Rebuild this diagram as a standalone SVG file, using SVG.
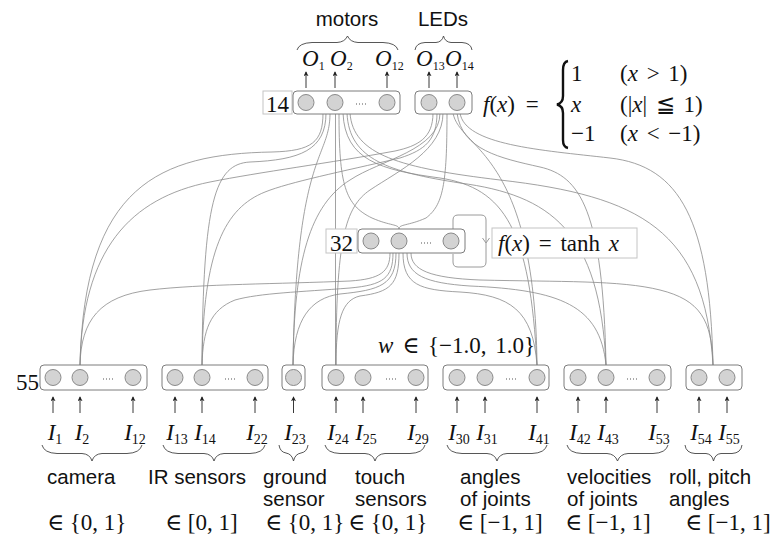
<svg xmlns="http://www.w3.org/2000/svg" width="771" height="543" viewBox="0 0 771 543">
<style>
  .ln{fill:none;stroke:#8a8a8a;stroke-width:0.8}
  .box{fill:#fff;stroke:#7d7d7d;stroke-width:1}
  .tag{fill:#fff;stroke:#c4c4c4;stroke-width:1}
  .u{fill:#d3d3d3;stroke:#8a8a8a;stroke-width:1}
  .dots{stroke:#555;stroke-width:1.1;stroke-dasharray:1 2}
  .ar{stroke:#222;stroke-width:0.9;marker-end:url(#tip)}
  .br{fill:none;stroke:#444;stroke-width:0.9}
  .m{font-family:"Liberation Serif","DejaVu Serif",serif;font-size:23px;fill:#111}
  .s{font-family:"Liberation Sans",Arial,sans-serif;font-size:20.5px;fill:#111}
  .i{font-style:italic}
  .sub{font-size:14px;font-style:normal}
  .osub{font-size:12px;font-style:normal}
</style>
<defs>
  <marker id="tip" viewBox="0 0 6 6" refX="5" refY="3" markerWidth="5" markerHeight="5" markerUnits="userSpaceOnUse" orient="auto">
    <path d="M0,0 L6,3 L0,6 L1.5,3 z" fill="#222"/>
  </marker>
</defs>

<!-- weighted connections -->
<g id="connectors">
  <!-- output motors -> inputs / hidden -->
  <path class="ln" d="M323,113 C323,142 312,151 272,152 C160,154 84,185 80,365"/>
  <path class="ln" d="M326,113 C326,150 300,160 250,162 C215,164 203,200 202,365"/>
  <path class="ln" d="M330,113 C330,160 296,150 293,365"/>
  <path class="ln" d="M335.5,113 L335.5,365"/>
  <path class="ln" d="M339,113 C339,185 345,205 372,218 C390,226 399,224 399,229"/>
  <path class="ln" d="M343,113 C345,160 380,170 440,178 C505,188 530,230 537,365"/>
  <path class="ln" d="M347,113 C349,160 390,172 460,183 C550,195 600,230 606,365"/>
  <path class="ln" d="M350,113 C353,155 400,168 500,180 C640,196 705,230 713,365"/>
  <!-- output LEDs -> inputs / hidden -->
  <path class="ln" d="M433,113 C433,138 418,146 395,151 C330,163 260,172 210,182 C130,198 82,250 80,365"/>
  <path class="ln" d="M437,113 C437,140 425,150 400,158 C340,172 290,182 265,192 C225,208 203,250 202,365"/>
  <path class="ln" d="M440,113 C440,150 380,160 350,180 C310,205 294,260 293,365"/>
  <path class="ln" d="M443,113 C443,150 400,170 370,190 C345,207 336,240 336,365"/>
  <path class="ln" d="M447,113 C447,185 443,205 426,218 C408,226 399,224 399,229"/>
  <path class="ln" d="M453,113 C460,150 535,150 537,365"/>
  <path class="ln" d="M457,113 C462,150 500,158 540,167 C580,176 603,210 606,365"/>
  <path class="ln" d="M460,113 C465,145 540,150 610,158 C680,166 710,220 713,365"/>
  <!-- hidden -> inputs -->
  <path class="ln" d="M390,253 C390,272 380,279 350,281 C280,284 200,284 150,290 C100,296 81,320 80,365"/>
  <path class="ln" d="M393,253 C393,278 383,285 350,288 C300,292 260,293 235,300 C210,310 203,330 202,365"/>
  <path class="ln" d="M396,253 C396,285 380,290 340,294 C310,298 294,320 293,365"/>
  <path class="ln" d="M399,253 C399,285 390,292 360,296 C342,300 336,320 336,365"/>
  <path class="ln" d="M403,253 C403,285 420,290 460,292 C510,295 533,310 537,365"/>
  <path class="ln" d="M407,253 C407,275 425,283 470,286 C560,290 600,305 606,365"/>
  <path class="ln" d="M411,253 C411,270 430,278 480,280 C560,282 620,280 660,290 C700,300 712,320 713,365"/>
</g>

<!-- output layer -->
<text class="s" x="347" y="26" text-anchor="middle" font-size="21">motors</text>
<text class="s" x="443" y="26" text-anchor="middle" font-size="21">LEDs</text>
<path class="br" d="M297,50 Q299,43 312,42.5 L337,42.5 Q345,42 347.5,36 Q350,42 358,42.5 L383,42.5 Q396,43 398,50"/>
<path class="br" d="M415,50 Q416,43 425,42.5 L436,42.5 Q442,42 443.5,36 Q445,42 451,42.5 L462,42.5 Q471,43 472,50"/>

<g id="output-size">
  <rect class="tag" x="263" y="91" width="29" height="23"/>
  <text class="m" x="277.5" y="112" text-anchor="middle" font-size="27">14</text>
</g>
<g id="output-motors">
  <rect class="box" x="293" y="91" width="107" height="23" rx="4"/>
  <circle class="u" cx="306" cy="102.5" r="8"/>
  <circle class="u" cx="335" cy="102.5" r="8"/>
  <line class="dots" x1="356" y1="104" x2="367" y2="104"/>
  <circle class="u" cx="387" cy="102.5" r="8"/>
  <line class="ar" x1="306" y1="88" x2="306" y2="72"/>
  <line class="ar" x1="335" y1="88" x2="335" y2="72"/>
  <line class="ar" x1="387" y1="88" x2="387" y2="72"/>
  <text class="m" x="302" y="66" font-size="18"><tspan class="i">O</tspan><tspan class="osub" dy="4">1</tspan></text>
  <text class="m" x="330" y="66" font-size="18"><tspan class="i">O</tspan><tspan class="osub" dy="4">2</tspan></text>
  <text class="m" x="375" y="66" font-size="18"><tspan class="i">O</tspan><tspan class="osub" dy="4">12</tspan></text>
</g>
<g id="output-leds">
  <rect class="box" x="415" y="91" width="57" height="23" rx="4"/>
  <circle class="u" cx="429" cy="102.5" r="8"/>
  <circle class="u" cx="457" cy="102.5" r="8"/>
  <line class="ar" x1="429" y1="88" x2="429" y2="72"/>
  <line class="ar" x1="457" y1="88" x2="457" y2="72"/>
  <text class="m" x="416" y="66" font-size="18"><tspan class="i">O</tspan><tspan class="osub" dy="4">13</tspan></text>
  <text class="m" x="445" y="66" font-size="18"><tspan class="i">O</tspan><tspan class="osub" dy="4">14</tspan></text>
</g>

<!-- output activation -->
<g id="output-activation">
  <text class="m" x="483" y="112" font-size="24" word-spacing="5"><tspan class="i">f</tspan>(<tspan class="i">x</tspan>) =</text>
  <path d="M568,61 Q563,62 563,70 L563,96 Q563,103 557,104.5 Q563,106 563,113 L563,140 Q563,147 568,148" fill="none" stroke="#111" stroke-width="2.4"/>
  <text class="m" x="571" y="81">1</text>
  <text class="m i" x="571" y="112">x</text>
  <text class="m" x="571" y="141">−1</text>
  <text class="m" x="620" y="81" word-spacing="3">(<tspan class="i">x</tspan> &gt; 1)</text>
  <text class="m" x="620" y="112" word-spacing="3">(|<tspan class="i">x</tspan>| ≦ 1)</text>
  <text class="m" x="620" y="141" word-spacing="3">(<tspan class="i">x</tspan> &lt; −1)</text>
</g>

<!-- hidden layer -->
<path d="M453,229 L453,220 Q453,215 458,215 L481,215 Q486,215 486,220 L486,262 Q486,267 481,267 L458,267 Q453,267 453,262 L453,254" fill="none" stroke="#9a9a9a" stroke-width="1"/>
<path d="M482.5,238 L486,243 L489.5,238" fill="none" stroke="#9a9a9a" stroke-width="1"/>
<g id="hidden-size">
  <rect class="tag" x="326" y="229" width="31" height="24"/>
  <text class="m" x="341.5" y="251" text-anchor="middle" font-size="27">32</text>
</g>
<g id="hidden">
  <rect class="box" x="358" y="229" width="107" height="24" rx="4"/>
  <circle class="u" cx="371" cy="241" r="8"/>
  <circle class="u" cx="399" cy="241" r="8"/>
  <line class="dots" x1="421" y1="243" x2="432" y2="243"/>
  <circle class="u" cx="451" cy="241" r="8"/>
</g>
<g id="hidden-activation">
  <rect class="tag" x="492" y="228" width="145" height="30"/>
  <text class="m" x="498" y="251" font-size="26" word-spacing="3"><tspan class="i">f</tspan>(<tspan class="i">x</tspan>) = tanh <tspan class="i">x</tspan></text>
</g>

<text class="m" x="535" y="353" text-anchor="end" font-size="24" word-spacing="3"><tspan class="i">w</tspan> ∈ {−1.0,  1.0}</text>

<!-- input layer -->
<text class="m" x="39" y="390" text-anchor="end" font-size="28">55</text>

<g id="input-camera">
  <rect class="box" x="40" y="365" width="107" height="25" rx="4"/>
  <circle class="u" cx="53" cy="377.5" r="8"/>
  <circle class="u" cx="80" cy="377.5" r="8"/>
  <line class="dots" x1="103" y1="379" x2="114" y2="379"/>
  <circle class="u" cx="133" cy="377.5" r="8"/>
  <line class="ar" x1="53" y1="413" x2="53" y2="397"/>
  <line class="ar" x1="80" y1="413" x2="80" y2="397"/>
  <line class="ar" x1="133" y1="413" x2="133" y2="397"/>
  <text class="m i" x="55" y="440" text-anchor="middle" font-size="21">I<tspan class="sub" dy="4">1</tspan></text>
  <text class="m i" x="82" y="440" text-anchor="middle" font-size="21">I<tspan class="sub" dy="4">2</tspan></text>
  <text class="m i" x="135" y="440" text-anchor="middle" font-size="21">I<tspan class="sub" dy="4">12</tspan></text>
  <path class="br" d="M42,445 Q44,453 57,453.5 L82,453.5 Q90,454 92,461 Q94,454 102,453.5 L127,453.5 Q140,453 142,445"/>
  <text class="s" x="47" y="484">camera</text>
  <text class="m" x="47" y="530">∈ {0, 1}</text>
</g>

<g id="input-ir">
  <rect class="box" x="162" y="365" width="106" height="25" rx="4"/>
  <circle class="u" cx="175" cy="377.5" r="8"/>
  <circle class="u" cx="202" cy="377.5" r="8"/>
  <line class="dots" x1="225" y1="379" x2="236" y2="379"/>
  <circle class="u" cx="255" cy="377.5" r="8"/>
  <line class="ar" x1="175" y1="413" x2="175" y2="397"/>
  <line class="ar" x1="202" y1="413" x2="202" y2="397"/>
  <line class="ar" x1="255" y1="413" x2="255" y2="397"/>
  <text class="m i" x="177" y="440" text-anchor="middle" font-size="21">I<tspan class="sub" dy="4">13</tspan></text>
  <text class="m i" x="205" y="440" text-anchor="middle" font-size="21">I<tspan class="sub" dy="4">14</tspan></text>
  <text class="m i" x="257" y="440" text-anchor="middle" font-size="21">I<tspan class="sub" dy="4">22</tspan></text>
  <path class="br" d="M163,445 Q165,453 178,453.5 L204,453.5 Q212,454 214,461 Q216,454 224,453.5 L250,453.5 Q263,453 265,445"/>
  <text class="s" x="148" y="484">IR sensors</text>
  <text class="m" x="165" y="530">∈ [0, 1]</text>
</g>

<g id="input-ground">
  <rect class="box" x="282" y="365" width="23" height="25" rx="4"/>
  <circle class="u" cx="293.5" cy="377.5" r="8"/>
  <line class="ar" x1="293.5" y1="413" x2="293.5" y2="397"/>
  <text class="m i" x="295" y="440" text-anchor="middle" font-size="21">I<tspan class="sub" dy="4">23</tspan></text>
  <path class="br" d="M279,445 Q280,452 286,453 Q292,454 293.5,461 Q295,454 301,453 Q307,452 308,445"/>
  <text class="s" x="263" y="484">ground</text>
  <text class="s" x="263" y="506">sensor</text>
  <text class="m" x="265" y="530">∈ {0, 1}</text>
</g>

<g id="input-touch">
  <rect class="box" x="322" y="365" width="106" height="25" rx="4"/>
  <circle class="u" cx="336" cy="377.5" r="8"/>
  <circle class="u" cx="363" cy="377.5" r="8"/>
  <line class="dots" x1="386" y1="379" x2="397" y2="379"/>
  <circle class="u" cx="416" cy="377.5" r="8"/>
  <line class="ar" x1="336" y1="413" x2="336" y2="397"/>
  <line class="ar" x1="363" y1="413" x2="363" y2="397"/>
  <line class="ar" x1="416" y1="413" x2="416" y2="397"/>
  <text class="m i" x="338" y="440" text-anchor="middle" font-size="21">I<tspan class="sub" dy="4">24</tspan></text>
  <text class="m i" x="366" y="440" text-anchor="middle" font-size="21">I<tspan class="sub" dy="4">25</tspan></text>
  <text class="m i" x="418" y="440" text-anchor="middle" font-size="21">I<tspan class="sub" dy="4">29</tspan></text>
  <path class="br" d="M325,445 Q327,453 340,453.5 L365,453.5 Q373,454 375,461 Q377,454 385,453.5 L410,453.5 Q423,453 425,445"/>
  <text class="s" x="355" y="484">touch</text>
  <text class="s" x="355" y="506">sensors</text>
  <text class="m" x="348" y="530">∈ {0, 1}</text>
</g>

<g id="input-angles">
  <rect class="box" x="443" y="365" width="106" height="25" rx="4"/>
  <circle class="u" cx="457" cy="377.5" r="8"/>
  <circle class="u" cx="485" cy="377.5" r="8"/>
  <line class="dots" x1="506" y1="379" x2="517" y2="379"/>
  <circle class="u" cx="537" cy="377.5" r="8"/>
  <line class="ar" x1="457" y1="413" x2="457" y2="397"/>
  <line class="ar" x1="485" y1="413" x2="485" y2="397"/>
  <line class="ar" x1="537" y1="413" x2="537" y2="397"/>
  <text class="m i" x="459" y="440" text-anchor="middle" font-size="21">I<tspan class="sub" dy="4">30</tspan></text>
  <text class="m i" x="487" y="440" text-anchor="middle" font-size="21">I<tspan class="sub" dy="4">31</tspan></text>
  <text class="m i" x="539" y="440" text-anchor="middle" font-size="21">I<tspan class="sub" dy="4">41</tspan></text>
  <path class="br" d="M447,445 Q449,453 462,453.5 L487,453.5 Q495,454 497,461 Q499,454 507,453.5 L532,453.5 Q545,453 547,445"/>
  <text class="s" x="460" y="484">angles</text>
  <text class="s" x="460" y="506">of joints</text>
  <text class="m" x="457" y="530">∈ [−1, 1]</text>
</g>

<g id="input-velocities">
  <rect class="box" x="564" y="365" width="107" height="25" rx="4"/>
  <circle class="u" cx="578" cy="377.5" r="8"/>
  <circle class="u" cx="606" cy="377.5" r="8"/>
  <line class="dots" x1="627" y1="379" x2="638" y2="379"/>
  <circle class="u" cx="657" cy="377.5" r="8"/>
  <line class="ar" x1="578" y1="413" x2="578" y2="397"/>
  <line class="ar" x1="606" y1="413" x2="606" y2="397"/>
  <line class="ar" x1="657" y1="413" x2="657" y2="397"/>
  <text class="m i" x="580" y="440" text-anchor="middle" font-size="21">I<tspan class="sub" dy="4">42</tspan></text>
  <text class="m i" x="608" y="440" text-anchor="middle" font-size="21">I<tspan class="sub" dy="4">43</tspan></text>
  <text class="m i" x="659" y="440" text-anchor="middle" font-size="21">I<tspan class="sub" dy="4">53</tspan></text>
  <path class="br" d="M567,445 Q569,453 582,453.5 L607,453.5 Q615,454 617.5,461 Q620,454 628,453.5 L653,453.5 Q666,453 668,445"/>
  <text class="s" x="567" y="484">velocities</text>
  <text class="s" x="567" y="506">of joints</text>
  <text class="m" x="565" y="530">∈ [−1, 1]</text>
</g>

<g id="input-posture">
  <rect class="box" x="686" y="365" width="56" height="25" rx="4"/>
  <circle class="u" cx="699" cy="377.5" r="8"/>
  <circle class="u" cx="727" cy="377.5" r="8"/>
  <line class="ar" x1="699" y1="413" x2="699" y2="397"/>
  <line class="ar" x1="727" y1="413" x2="727" y2="397"/>
  <text class="m i" x="701" y="440" text-anchor="middle" font-size="21">I<tspan class="sub" dy="4">54</tspan></text>
  <text class="m i" x="729" y="440" text-anchor="middle" font-size="21">I<tspan class="sub" dy="4">55</tspan></text>
  <path class="br" d="M685,445 Q686,453 695,453.5 L706,453.5 Q712,454 713.5,461 Q715,454 721,453.5 L732,453.5 Q741,453 742,445"/>
  <text class="s" x="669" y="484">roll, pitch</text>
  <text class="s" x="669" y="506">angles</text>
  <text class="m" x="685" y="530">∈ [−1, 1]</text>
</g>
</svg>
